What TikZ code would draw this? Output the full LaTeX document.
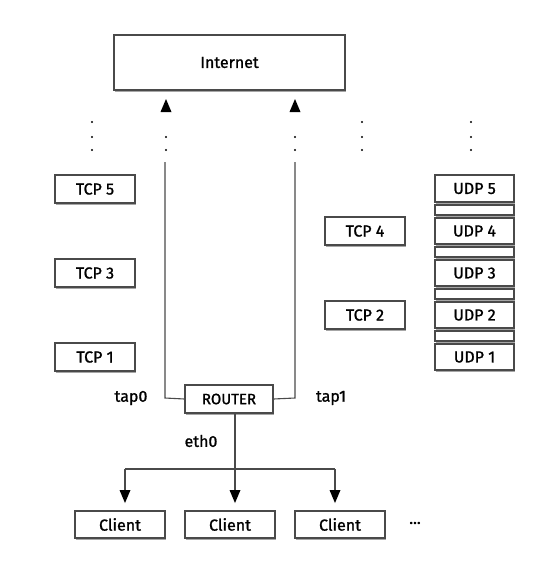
\documentclass[tikz,border=0pt]{standalone}
\usepackage{fontspec}
\setmainfont{Fira Sans}[FakeBold=1.2]
\usetikzlibrary{arrows.meta,shadows}
\definecolor{edge}{HTML}{4A4A4A}
\begin{document}
\begin{tikzpicture}[x=1pt,y=-1pt,
  box/.style={draw=edge,line width=1.2pt,fill=white,inner sep=0pt,
    drop shadow={shadow xshift=1.2pt,shadow yshift=-1.5pt,opacity=0.35,fill=black},
    font=\fontsize{16}{18}\selectfont},
  conn/.style={draw=edge,line width=1.1pt},
  headfill/.style={fill=black},
  dot/.style={fill=black,circle,inner sep=0pt,minimum size=2.2pt},
  lbl/.style={font=\fontsize{16}{18}\selectfont}]
\useasboundingbox (0,0) rectangle (540,574);
\newcommand{\bx}[6]{\node[box,minimum width=#4-#2,minimum height=#5-#3] (#1) at ({(#2+#4)/2},{(#3+#5)/2}) {#6};}
\newcommand{\headdown}[1]{\fill[headfill] (#1) -- ++(-5.5,-13) -- ++(11,0) -- cycle;}
\newcommand{\headup}[1]{\fill[headfill] (#1) -- ++(-5.5,13) -- ++(11,0) -- cycle;}
\bx{inet}{114}{35}{345}{90}{Internet}
\bx{tcp5}{55}{175}{135}{203}{TCP 5}
\bx{tcp3}{55}{259}{135}{287}{TCP 3}
\bx{tcp1}{55}{343}{135}{371}{TCP 1}
\bx{tcp4}{325}{217}{405}{245}{TCP 4}
\bx{tcp2}{325}{301}{405}{329}{TCP 2}
\bx{udp5}{435}{175}{514}{202}{UDP 5}
\bx{s4}{435}{205}{514}{215}{}
\bx{udp4}{435}{218}{514}{244}{UDP 4}
\bx{s3}{435}{247}{514}{257}{}
\bx{udp3}{435}{260}{514}{286}{UDP 3}
\bx{s2}{435}{289}{514}{299}{}
\bx{udp2}{435}{302}{514}{328}{UDP 2}
\bx{s1}{435}{331}{514}{341}{}
\bx{udp1}{435}{344}{514}{370}{UDP 1}
\bx{router}{185}{385}{273}{413}{\fontsize{15}{17}\selectfont ROUTER}
\bx{c1}{75}{511}{165}{538}{Client}
\bx{c2}{185}{511}{275}{538}{Client}
\bx{c3}{295}{511}{385}{538}{Client}
\node[lbl] (more) at (415,523) {...};
% labels
\node[lbl] (tap0) at (131,398) {tap0};
\node[lbl] (tap1) at (331,398) {tap1};
\node[lbl] (eth0) at (201,441) {eth0};
% coordinates
\coordinate (l0) at (165,398);
\coordinate (l1) at (165,162);
\coordinate (r0) at (295,398);
\coordinate (r1) at (295,162);
\coordinate (lb) at (166,99);
\coordinate (rb) at (295,99);
\coordinate (e0) at (235,413);
\coordinate (h1) at (125,469);
\coordinate (h3) at (335,469);
\coordinate (t1) at (125,503);
\coordinate (t2) at (235,503);
\coordinate (t3) at (335,503);
\coordinate (b1) at (125,492);
\coordinate (b2) at (235,492);
\coordinate (b3) at (335,492);
% connectors
\draw[conn] (router.west) -- (l0) -- (l1);
\draw[conn] (router.east) -- (r0) -- (r1);
\headup{lb}
\headup{rb}
\draw[conn] (h1) -- (h3);
\draw[conn] (e0) -- (b2);
\draw[conn] (h1) -- (b1);
\draw[conn] (h3) -- (b3);
\headdown{t1}
\headdown{t2}
\headdown{t3}
% dots
\foreach \x/\n in {92/a,362/b,471/c} {
  \foreach \y/\m in {122/1,137/2,150/3} { \node[dot] (d\n\m) at (\x,\y) {}; }
}
\foreach \x/\n in {166/d,295/e} {
  \foreach \y/\m in {137/2,150/3} { \node[dot] (d\n\m) at (\x,\y) {}; }
}
\end{tikzpicture}
\end{document}
